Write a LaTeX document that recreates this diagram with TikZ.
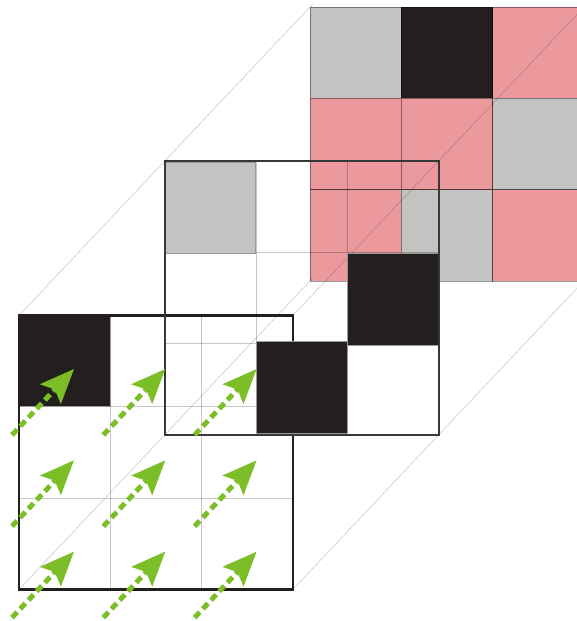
\documentclass[tikz,border=0pt]{standalone}
\usepackage{tikz}
\usetikzlibrary{arrows.meta}
\definecolor{cellpink}{RGB}{236,153,158}
\definecolor{cellgray}{RGB}{195,195,194}
\definecolor{cellblack}{RGB}{35,31,30}
\definecolor{flowgreen}{RGB}{124,190,40}
\definecolor{guidegray}{RGB}{200,200,200}
\tikzset{backcell/.style={draw=black,draw opacity=.4,line width=.8pt},
 midcell/.style={draw=black!40,line width=.7pt},
 guideline/.style={draw=black,draw opacity=.2,line width=.6pt,shorten >=-4pt},
 innerline/.style={draw=black,draw opacity=.22,line width=.9pt},
 frontframe/.style={draw=cellblack,line width=2.4pt},
 midframe/.style={draw=black!78,line width=1.4pt},
 flow/.style={draw=flowgreen,line width=5pt,dash pattern=on 7.5pt off 4.5pt,
   -{Stealth[length=34pt,width=28pt,inset=6pt]}}}

\begin{document}
\begin{tikzpicture}[x=1pt,y=-1pt]
\useasboundingbox (0,0) rectangle (577,621);
\clip (0,0) rectangle (577,621);
% corners of the three layers
\coordinate (f-nw) at (19.0,315.5);
\coordinate (f-ne) at (292.9,315.5);
\coordinate (f-sw) at (19.0,589.4);
\coordinate (f-se) at (292.9,589.4);
\coordinate (m-nw) at (165.0,161.0);
\coordinate (m-se) at (438.9,434.9);
\coordinate (b-nw) at (310.0,7.0);
\coordinate (b-ne) at (583.9,7.0);
\coordinate (b-sw) at (310.0,280.9);
\coordinate (b-se) at (583.9,280.9);
% back layer
\path[fill=cellgray,backcell] (310.0,7.0) rectangle (401.3,98.3);
\path[fill=cellblack,backcell] (401.3,7.0) rectangle (492.6,98.3);
\path[fill=cellpink,backcell] (492.6,7.0) rectangle (583.9,98.3);
\path[fill=cellpink,backcell] (310.0,98.3) rectangle (401.3,189.6);
\path[fill=cellpink,backcell] (401.3,98.3) rectangle (492.6,189.6);
\path[fill=cellgray,backcell] (492.6,98.3) rectangle (583.9,189.6);
\path[fill=cellpink,backcell] (310.0,189.6) rectangle (401.3,280.9);
\path[fill=cellgray,backcell] (401.3,189.6) rectangle (492.6,280.9);
\path[fill=cellpink,backcell] (492.6,189.6) rectangle (583.9,280.9);
% guides through the corners
\draw[guideline] (f-nw) -- (b-nw);
\draw[guideline] (f-ne) -- (b-ne);
\draw[guideline] (f-sw) -- (b-sw);
\draw[guideline] (f-se) -- (b-se);
% front layer
\path[fill=cellblack,midcell] (19.0,315.5) rectangle (110.3,406.8);
\draw[innerline] (110.3,406.8) -- (110.3,589.4);
\draw[innerline] (201.6,315.5) -- (201.6,589.4);
\draw[innerline] (110.3,406.8) -- (292.9,406.8);
\draw[innerline] (19.0,498.1) -- (292.9,498.1);
\draw[frontframe] (f-nw) rectangle (f-se);
% middle layer
\draw[innerline] (256.3,161.0) -- (256.3,434.9);
\draw[innerline] (347.6,161.0) -- (347.6,434.9);
\draw[innerline] (165.0,252.3) -- (438.9,252.3);
\draw[innerline] (165.0,343.6) -- (438.9,343.6);
\path[fill=cellgray,midcell] (165.0,162.0) rectangle (255.5,253.5);
\path[fill=cellblack,midcell] (347.0,253.5) rectangle (438.9,345.5);
\path[fill=cellblack,midcell] (256.0,341.0) rectangle (347.0,433.5);
\draw[midframe] (m-nw) rectangle (m-se);
% flow arrows
\draw[flow] (12.0,435.0) -- ++(62,-66);
\draw[flow] (103.3,435.0) -- ++(62,-66);
\draw[flow] (194.6,435.0) -- ++(62,-66);
\draw[flow] (12.0,526.3) -- ++(62,-66);
\draw[flow] (103.3,526.3) -- ++(62,-66);
\draw[flow] (194.6,526.3) -- ++(62,-66);
\draw[flow] (12.0,617.6) -- ++(62,-66);
\draw[flow] (103.3,617.6) -- ++(62,-66);
\draw[flow] (194.6,617.6) -- ++(62,-66);
\end{tikzpicture}
\end{document}
